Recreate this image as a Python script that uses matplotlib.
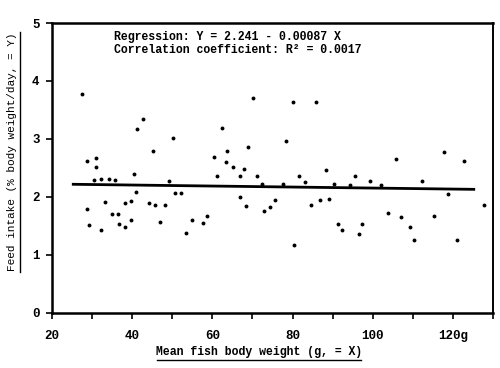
import numpy as np
import matplotlib
matplotlib.use('Agg')
from matplotlib import pyplot as plt
from matplotlib.lines import Line2D

# fish weight (g) and feed intake (% body weight / day)
weight = [27.6, 28.7, 30.9, 30.9, 30.4, 32.2, 34.1, 35.8, 28.7, 33.2, 29.2, 32.3,
          35.0, 36.4, 36.6, 38.1, 38.3, 39.75, 39.6, 40.5, 41.0, 41.2, 42.8, 45.1,
          44.1, 45.8, 48.2, 46.9, 49.3, 50.3, 50.75, 52.1, 53.4, 55.0, 57.75, 58.75,
          60.3, 61.1, 62.3, 63.3, 63.75, 65.1, 66.9, 67.0, 68.0, 68.5, 68.8, 70.1,
          71.25, 72.5, 73.0, 74.3, 75.6, 77.6, 78.3, 80.0, 80.3, 81.6, 83.0, 84.7,
          85.75, 86.8, 88.3, 89.1, 90.4, 91.3, 92.25, 94.4, 95.6, 96.7, 97.4, 99.3,
          102.1, 103.7, 105.8, 107.0, 109.2, 110.4, 112.3, 115.2, 117.7, 118.7,
          121.1, 122.8, 127.8]
intake = [3.77, 2.62, 2.68, 2.51, 2.30, 2.31, 2.31, 2.30, 1.79, 1.91, 1.52, 1.43,
          1.71, 1.71, 1.53, 1.49, 1.90, 1.93, 1.60, 2.40, 2.08, 3.17, 3.34, 2.80,
          1.90, 1.87, 1.87, 1.57, 2.28, 3.01, 2.07, 2.07, 1.38, 1.60, 1.55, 1.68,
          2.69, 2.36, 3.19, 2.60, 2.79, 2.52, 2.37, 2.00, 2.49, 1.85, 2.87, 3.70,
          2.36, 2.23, 1.75, 1.83, 1.95, 2.22, 2.96, 3.64, 1.18, 2.37, 2.26, 1.86,
          3.64, 1.95, 2.47, 1.97, 2.22, 1.53, 1.43, 2.21, 2.36, 1.36, 1.54, 2.27,
          2.20, 1.73, 2.66, 1.66, 1.49, 1.26, 2.27, 1.67, 2.77, 2.05, 1.26, 2.62,
          1.87]

# regression given on the chart
intercept = 2.241
slope = -0.00087
line_x = np.array([25.3, 125.2])

xticks = [20, 30, 40, 50, 60, 70, 80, 90, 100, 110, 120, 130]
xticklabels = ['20', '', '40', '', '60', '', '80', '', '100', '', '120g', '']
yticks = [0, 1, 2, 3, 4, 5]

mono = 'Liberation Mono'

fig = plt.figure(figsize=(5, 3.68), dpi=100)
ax = fig.add_axes([0.104, 0.1495, 0.882, 0.788])

ax.plot(weight, intake, 'o', color='black', markersize=2.8, markeredgewidth=0)
ax.plot(line_x, intercept + slope * line_x, color='black', linewidth=2)

ax.set_xlim(20, 130)
ax.set_ylim(0, 5)
ax.set_xticks(xticks)
ax.set_xticklabels(xticklabels, family=mono, fontsize=9, fontweight='bold')
ax.set_yticks(yticks)
ax.set_yticklabels([str(v) for v in yticks], family=mono, fontsize=9, fontweight='bold')
ax.tick_params(axis='x', direction='out', length=4, width=1.2, pad=8)
ax.tick_params(axis='y', direction='out', length=4, width=1.2, pad=5)

for side in ['left', 'bottom', 'top']:
    ax.spines[side].set_linewidth(1.8)
ax.spines['right'].set_linewidth(1.4)

ax.text(0.14, 0.972, 'Regression: Y = 2.241 - 0.00087 X', transform=ax.transAxes,
        family=mono, fontsize=8.3, fontweight='bold', va='top')
ax.text(0.14, 0.927, 'Correlation coefficient: R\u00b2 = 0.0017', transform=ax.transAxes,
        family=mono, fontsize=8.3, fontweight='bold', va='top')

# axis labels, underlined like the typed original
fig.text(259 / 500, 1 - 352 / 368, 'Mean fish body weight (g, = X)', family=mono,
         fontsize=8.3, fontweight='bold', ha='center', va='center')
fig.add_artist(Line2D([157 / 500, 361 / 500], [1 - 360 / 368, 1 - 360 / 368],
                      color='black', linewidth=1))
fig.text(12 / 500, 1 - 152 / 368, 'Feed intake (% body weight/day, = Y)', family=mono,
         fontsize=8, ha='center', va='center', rotation=90)
fig.add_artist(Line2D([20 / 500, 20 / 500], [1 - 272 / 368, 1 - 32 / 368],
                      color='black', linewidth=1))

fig.savefig('out.png', dpi=100)
